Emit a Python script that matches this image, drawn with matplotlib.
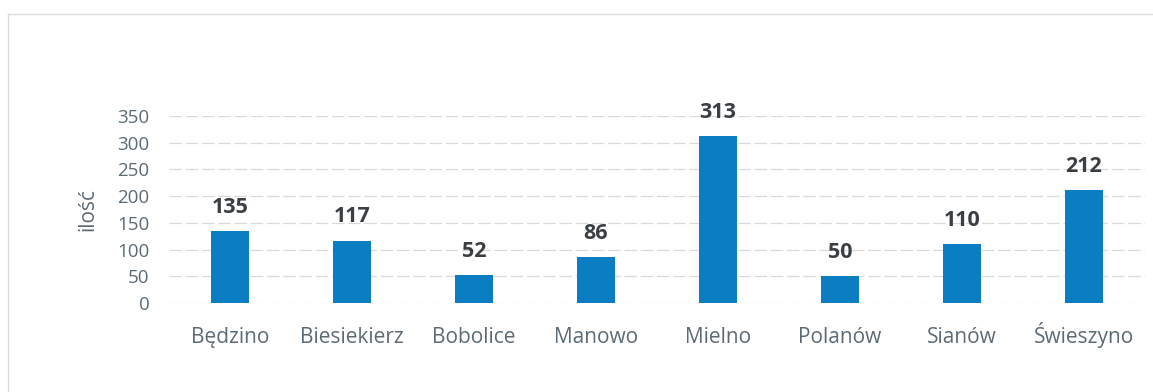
import matplotlib.pyplot as plt
from matplotlib.lines import Line2D

categories = ["Będzino", "Biesiekierz", "Bobolice", "Manowo", "Mielno", "Polanów", "Sianów", "Świeszyno"]
values = [135, 117, 52, 86, 313, 50, 110, 212]
yticks = [0, 50, 100, 150, 200, 250, 300, 350]
ylabel = "ilość"

plt.rcParams['font.family'] = ['Open Sans', 'DejaVu Sans']

text_color = '#5b6b76'

fig = plt.figure(figsize=(11.53, 3.92), dpi=100)
ax = fig.add_axes([0.1466, 0.227, 0.8464, 0.477])

x = list(range(len(categories)))
ax.bar(x, values, width=0.31, color='#0b7dc2', zorder=3)

for xi, v in zip(x, values):
    ax.annotate(str(v), xy=(xi, v), xytext=(0, 13), textcoords='offset points',
                ha='center', va='baseline', fontsize=15.5, fontweight='bold',
                color='#3a3f44')

ax.set_xlim(-0.5, len(categories) - 0.5)
ax.set_ylim(0, 350)
ax.set_yticks(yticks)
ax.set_xticks(x)
ax.set_xticklabels(categories, fontsize=15)
ax.tick_params(axis='both', length=0, colors=text_color)
ax.tick_params(axis='y', labelsize=13.5, pad=14)
ax.tick_params(axis='x', pad=29)
for lbl in ax.get_xticklabels():
    lbl.set_verticalalignment('baseline')
ax.set_ylabel(ylabel, fontsize=15, color=text_color, labelpad=14)

ax.grid(axis='y', color='#d9d9d9', linewidth=0.9, linestyle=(0, (10, 3)), zorder=0)
for s in ax.spines.values():
    s.set_visible(False)

# faint chart frame along the top and left edges
fig.add_artist(Line2D([8 / 1153, 1.0], [1 - 14 / 392, 1 - 14 / 392],
                      transform=fig.transFigure, color='#dcdcdc', linewidth=1))
fig.add_artist(Line2D([8 / 1153, 8 / 1153], [0.0, 1 - 14 / 392],
                      transform=fig.transFigure, color='#dcdcdc', linewidth=1))

fig.savefig('out.png', dpi=100, facecolor='white')
